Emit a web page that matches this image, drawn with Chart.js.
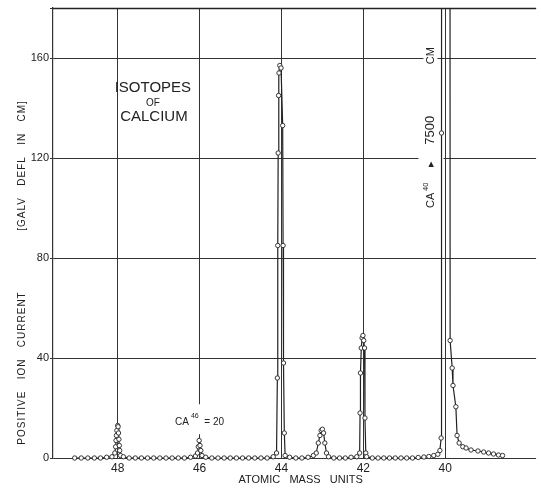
<!DOCTYPE html>
<html>
<head>
<meta charset="utf-8">
<script src="https://cdn.jsdelivr.net/npm/chart.js@4.4.1/dist/chart.umd.min.js"></script>
<style>
  html, body { margin: 0; padding: 0; background: #fff; }
  #wrap { width: 541px; height: 492px; position: relative; }
</style>
</head>
<body>
<div id="wrap"><canvas id="isotopeChart"></canvas></div>
<script>
// scan of the mass spectrum (mass falls as the scan runs)
const massAmu = [
  49.05, 48.89, 48.73, 48.57, 48.42, 48.27, 48.14,
  48.07, 48.05, 48.04, 48.03, 48.02, 48.00, 47.99, 47.98, 47.97, 47.96, 47.95, 47.93,
  47.86, 47.72, 47.57, 47.42, 47.27, 47.12, 46.97, 46.82, 46.67, 46.52, 46.37, 46.22, 46.10,
  46.05, 46.03, 46.01, 45.99, 45.97, 45.94,
  45.85, 45.70, 45.55, 45.40, 45.25, 45.10, 44.95, 44.80, 44.65, 44.50, 44.35, 44.20,
  44.12, 44.10, 44.09, 44.08, 44.07, 44.06, 44.04, 44.01, 43.97, 43.96, 43.95, 43.93, 43.91,
  43.80, 43.65, 43.50, 43.35, 43.22,
  43.15, 43.10, 43.06, 43.03, 43.00, 42.97, 42.94, 42.90, 42.85,
  42.72, 42.58, 42.44, 42.30, 42.16,
  42.09, 42.08, 42.07, 42.05, 42.03, 42.01, 41.99, 41.97, 41.96, 41.94, 41.92,
  41.78, 41.64, 41.50, 41.36, 41.22, 41.08, 40.94, 40.80, 40.66, 40.52, 40.40, 40.28, 40.18,
  40.13, 40.10, 40.09, 40.00, 39.88, 39.83, 39.81, 39.74, 39.71, 39.66, 39.57, 39.49,
  39.37, 39.20, 39.06, 38.94, 38.82, 38.70, 38.60
];
const ionCurrent = [
  0, 0, 0, 0, 0, 0.3, 0.5,
  2, 4.5, 7, 9, 11, 13, 12.5, 10, 7.5, 5, 3, 1,
  0.5, 0, 0, 0, 0, 0, 0, 0, 0, 0, 0, 0.3, 0.8,
  2, 4.5, 7, 5, 3, 1,
  0.3, 0, 0, 0, 0, 0, 0, 0, 0, 0, 0, 0.5,
  2, 32, 85, 122, 145, 154, 157, 156, 133, 85, 38, 10, 1,
  0.3, 0, 0, 0.3, 1,
  2, 6, 9, 11, 11.5, 10, 6, 2, 0.5,
  0, 0, 0, 0.3, 0.5,
  2, 18, 34, 44, 48, 49, 47, 44, 16, 2, 0.5,
  0, 0, 0, 0, 0, 0, 0, 0, 0.2, 0.4, 0.6, 1, 1.5,
  3, 8, 130, 7500, 47, 36, 29, 20.5, 9, 6, 4.5, 4,
  3.2, 2.8, 2.4, 2, 1.6, 1.2, 1
];
const massTicks = [48, 46, 44, 42, 40];
const currentTicks = [0, 40, 80, 120, 160, 180];

const FONT = '"Liberation Sans", Arial, sans-serif';
const INK = '#222';

Chart.defaults.font.family = FONT;
Chart.defaults.color = INK;

function rotatedText(ctx, text, px, py, size) {
  ctx.save();
  ctx.translate(px, py);
  ctx.rotate(-Math.PI / 2);
  ctx.font = size + 'px ' + FONT;
  ctx.textAlign = 'center';
  ctx.textBaseline = 'middle';
  ctx.fillText(text, 0, 0);
  ctx.restore();
}

const notesPlugin = {
  id: 'notes',
  beforeDatasetsDraw(chart) {
    const { ctx, scales: { x, y } } = chart;
    ctx.save();
    ctx.fillStyle = INK;
    ctx.textAlign = 'center';
    ctx.textBaseline = 'middle';

    // title block
    const tx = x.getPixelForValue(47.14);
    ctx.font = '15px ' + FONT;
    ctx.fillText('ISOTOPES', tx, y.getPixelForValue(148));
    ctx.font = '10px ' + FONT;
    ctx.fillText('OF', tx, y.getPixelForValue(142));
    ctx.font = '15px ' + FONT;
    ctx.fillText('CALCIUM', tx + 1, y.getPixelForValue(136.5));

    // Ca46 note, breaks the 46 grid line
    const cx = x.getPixelForValue(46);
    const cy = y.getPixelForValue(14.5);
    ctx.fillStyle = '#fff';
    ctx.fillRect(cx - 30, y.getPixelForValue(21.5), 60, y.getPixelForValue(9.5) - y.getPixelForValue(21.5));
    ctx.fillStyle = INK;
    ctx.textAlign = 'left';
    ctx.font = '10px ' + FONT;
    const wCa = ctx.measureText('CA').width;
    ctx.font = '7px ' + FONT;
    const w46 = ctx.measureText('46').width;
    ctx.font = '10px ' + FONT;
    const wEq = ctx.measureText('  = 20').width;
    const sx = cx - (wCa + w46 + 2 + wEq) / 2;
    ctx.fillText('CA', sx, cy);
    ctx.font = '7px ' + FONT;
    ctx.fillText('46', sx + wCa + 2, cy - 6);
    ctx.font = '10px ' + FONT;
    ctx.fillText('  = 20', sx + wCa + 2 + w46, cy);

    // Ca40 note, runs up the page beside the big peak
    const vx = x.getPixelForValue(40.36);
    ctx.fillStyle = '#fff';
    ctx.fillRect(vx - 12, y.getPixelForValue(126), 25, y.getPixelForValue(99) - y.getPixelForValue(126) + 4);
    ctx.fillStyle = INK;
    const parts = [
      ['CA', 100, 11, 0],
      ['40', 106.8, 7.5, -5],
      ['\u25B8', 116.5, 11, 0],
      ['7500', 125.3, 13, 0],
      ['CM', 157.5, 11, 0]
    ];
    parts.forEach(([t, v, size, lift]) => {
      ctx.save();
      ctx.translate(vx + lift, y.getPixelForValue(v));
      ctx.rotate(-Math.PI / 2);
      ctx.font = size + 'px ' + FONT;
      ctx.textAlign = 'left';
      ctx.textBaseline = 'middle';
      const w = ctx.measureText(t).width;
      ctx.fillStyle = '#fff';
      ctx.fillRect(-1, -7, w + 2, 14);
      ctx.fillStyle = INK;
      ctx.fillText(t, 0, 0);
      ctx.restore();
    });
    ctx.restore();
  },
  afterDraw(chart) {
    const { ctx, chartArea, scales: { y } } = chart;
    ctx.save();
    // top frame line
    const top = Math.round(y.getPixelForValue(180)) + 0.5;
    ctx.strokeStyle = '#222';
    ctx.lineWidth = 1.5;
    ctx.beginPath();
    ctx.moveTo(chartArea.left, top);
    ctx.lineTo(chartArea.right, top);
    ctx.stroke();

    ctx.fillStyle = INK;
    ctx.letterSpacing = '1px';
    rotatedText(ctx, 'POSITIVE   ION   CURRENT', 22, y.getPixelForValue(36), 10);
    rotatedText(ctx, '[GALV   DEFL   IN   CM]', 22, y.getPixelForValue(117), 10);
    ctx.restore();
  }
};

const ctx = document.getElementById('isotopeChart').getContext('2d');
new Chart(ctx, {
  type: 'line',
  data: {
    datasets: [{
      data: massAmu.map((m, i) => ({ x: m, y: ionCurrent[i] })),
      borderColor: INK,
      borderWidth: 1.2,
      tension: 0,
      pointRadius: 2.2,
      pointBorderWidth: 0.9,
      pointBackgroundColor: '#fff',
      pointBorderColor: INK,
      clip: { left: 5, top: 0, right: 0, bottom: 5 }
    }]
  },
  options: {
    responsive: true,
    maintainAspectRatio: false,
    animation: false,
    devicePixelRatio: 1,
    layout: { padding: { top: 8, right: 0, bottom: 0, left: 0 } },
    plugins: {
      legend: { display: false },
      tooltip: { enabled: false }
    },
    scales: {
      x: {
        type: 'linear',
        reverse: true,
        min: 37.78,
        max: 49.58,
        afterBuildTicks: axis => { axis.ticks = massTicks.map(v => ({ value: v })); },
        afterFit: axis => { axis.height = 34; },
        grid: { color: '#333', lineWidth: 1, drawTicks: false },
        border: { display: false },
        ticks: { font: { size: 12 }, padding: 3, color: INK },
        title: {
          display: true,
          text: '    ATOMIC   MASS   UNITS',
          font: { size: 11 },
          color: INK,
          padding: { top: 0, bottom: 5 }
        }
      },
      y: {
        min: 0,
        max: 180,
        afterBuildTicks: axis => { axis.ticks = currentTicks.map(v => ({ value: v })); },
        afterFit: axis => { axis.width = 53; },
        grid: { color: '#333', lineWidth: 1, tickLength: 3 },
        border: { display: true, color: '#333', width: 1.2 },
        ticks: {
          font: { size: 11 },
          padding: 1,
          color: INK,
          callback: v => (v === 180 ? '' : v)
        }
      }
    }
  },
  plugins: [notesPlugin]
});
</script>
</body>
</html>
